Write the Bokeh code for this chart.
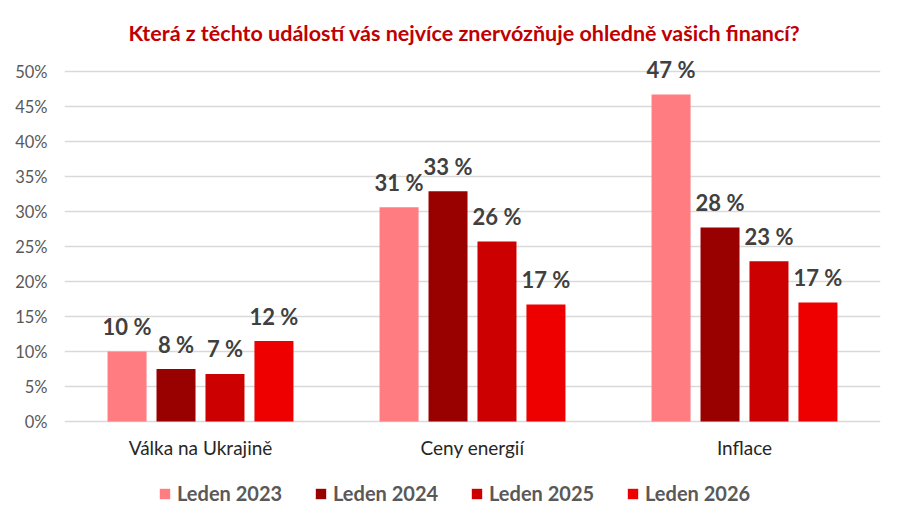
from bokeh.plotting import figure
from bokeh.models import (ColumnDataSource, FactorRange, Range1d, Legend, LegendItem,
                          PrintfTickFormatter, FixedTicker)
from bokeh.transform import dodge
from bokeh.core.properties import value
from bokeh.embed import file_html
from bokeh.resources import INLINE

# ---- data ----
categories = ["Válka na Ukrajině", "Ceny energií", "Inflace"]
series = ["Leden 2023", "Leden 2024", "Leden 2025", "Leden 2026"]
leden_2023 = [10.0, 30.6, 46.7]
leden_2024 = [7.5, 32.9, 27.7]
leden_2025 = [6.8, 25.7, 22.9]
leden_2026 = [11.5, 16.7, 17.0]
y_ticks = [0, 5, 10, 15, 20, 25, 30, 35, 40, 45, 50]
title_text = "Která z těchto událostí vás nejvíce znervózňuje ohledně vašich financí?"

colors = ["#FF7C80", "#990000", "#CC0000", "#EE0000"]
offsets = [-0.27, -0.09, 0.09, 0.27]
FONT = value("Lato")


def lab(v):
    return f"{int(v + 0.5)} %"


data = {"cat": categories, "base": [0] * len(categories)}
for i, vals in enumerate([leden_2023, leden_2024, leden_2025, leden_2026]):
    data[f"s{i}"] = vals
    data[f"l{i}"] = [lab(v) for v in vals]
src = ColumnDataSource(data)

# frame spans 0..-12.857 below the baseline to host category labels and legend
p = figure(x_range=FactorRange(factors=categories, range_padding=0),
           y_range=Range1d(-90 / 7, 53), width=886, height=511,
           output_backend="svg", toolbar_location=None, x_axis_location=None,
           min_border_left=64, min_border_right=6,
           min_border_top=50, min_border_bottom=0)
p.outline_line_color = None
p.background_fill_color = "white"
p.border_fill_color = "white"

renderers = []
for i in range(4):
    r = p.vbar(x=dodge("cat", offsets[i], range=p.x_range), top=f"s{i}", width=0.1434,
               source=src, fill_color=colors[i], line_color=None)
    renderers.append(r)
    p.text(x=dodge("cat", offsets[i], range=p.x_range), y=f"s{i}", text=f"l{i}",
           source=src, text_align="center", text_baseline="alphabetic", y_offset=-25,
           text_font=FONT, text_font_style="bold", text_font_size="22px",
           text_color="#404040")

# category labels below the baseline
p.text(x="cat", y="base", text="cat", source=src, text_align="center",
       text_baseline="middle", y_offset=26, text_font=FONT, text_font_size="19px",
       text_color="#262626")

p.yaxis.axis_line_color = None
p.yaxis.major_tick_line_color = None
p.yaxis.minor_tick_line_color = None
p.yaxis.ticker = FixedTicker(ticks=y_ticks)
p.yaxis.formatter = PrintfTickFormatter(format="%d%%")
p.yaxis.major_label_text_font = "Lato"
p.yaxis.major_label_text_font_size = "16.5px"
p.yaxis.major_label_text_color = "#595959"
p.yaxis.major_label_standoff = 11
p.xgrid.grid_line_color = None
p.ygrid.ticker = FixedTicker(ticks=y_ticks)
p.ygrid.grid_line_color = "#D9D9D9"
p.ygrid.grid_line_width = 1.5

# title
p.title.text = title_text
p.title.text_font = "Lato"
p.title.text_font_style = "bold"
p.title.text_font_size = "21.5px"
p.title.text_color = "#C00000"
p.title.align = "left"
p.title.offset = 64

legend = Legend(items=[LegendItem(label=series[i], renderers=[renderers[i]]) for i in range(4)],
                location=(94, 6), orientation="horizontal", padding=0, margin=0, spacing=19,
                label_standoff=6, glyph_width=13, glyph_height=13, label_width=118,
                border_line_color=None, background_fill_alpha=0,
                label_text_font="Lato", label_text_font_style="bold",
                label_text_font_size="20px", label_text_color="#595959")
p.add_layout(legend)

open("out.html", "w").write(file_html(p, INLINE))
